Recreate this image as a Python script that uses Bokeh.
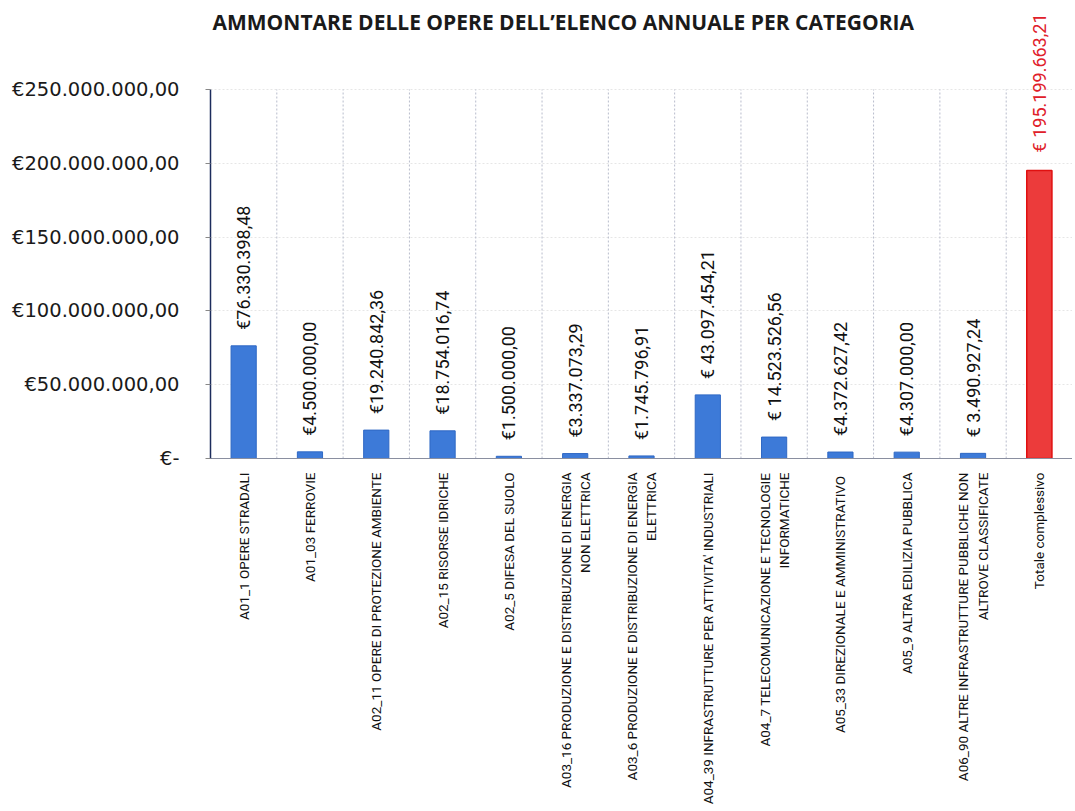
import math
from bokeh.plotting import figure
from bokeh.models import (ColumnDataSource, FactorRange, Range1d, FixedTicker,
                          LabelSet, Label)
from bokeh.core.properties import value
from bokeh.embed import file_html
from bokeh.resources import INLINE

categories = [
    "A01_1 OPERE STRADALI",
    "A01_03 FERROVIE",
    "A02_11 OPERE DI PROTEZIONE AMBIENTE",
    "A02_15 RISORSE IDRICHE",
    "A02_5 DIFESA DEL SUOLO",
    "A03_16 PRODUZIONE E DISTRIBUZIONE DI ENERGIA\nNON ELETTRICA",
    "A03_6 PRODUZIONE E DISTRIBUZIONE DI ENERGIA\nELETTRICA",
    "A04_39 INFRASTRUTTURE PER ATTIVITA' INDUSTRIALI",
    "A04_7 TELECOMUNICAZIONE E TECNOLOGIE\nINFORMATICHE",
    "A05_33 DIREZIONALE  E AMMINISTRATIVO",
    "A05_9 ALTRA EDILIZIA PUBBLICA",
    "A06_90 ALTRE INFRASTRUTTURE PUBBLICHE NON\nALTROVE CLASSIFICATE",
]
values = [76330398.48, 4500000.00, 19240842.36, 18754016.74, 1500000.00,
          3337073.29, 1745796.91, 43097454.21, 14523526.56, 4372627.42,
          4307000.00, 3490927.24]
value_labels = ["€76.330.398,48", "€4.500.000,00", "€19.240.842,36",
                "€18.754.016,74", "€1.500.000,00", "€3.337.073,29",
                "€1.745.796,91", "€ 43.097.454,21", "€ 14.523.526,56",
                "€4.372.627,42", "€4.307.000,00", "€ 3.490.927,24"]

total_category = "Totale complessivo"
total_value = 195199663.21
total_label = "€ 195.199.663,21"

y_ticks = [0, 50000000, 100000000, 150000000, 200000000, 250000000]
y_tick_labels = ["€-", "€50.000.000,00", "€100.000.000,00", "€150.000.000,00",
                 "€200.000.000,00", "€250.000.000,00"]

title_text = "AMMONTARE DELLE OPERE DELL\u2019ELENCO ANNUALE PER CATEGORIA"

all_cats = categories + [total_category]
axis_max = y_ticks[-1]

src = ColumnDataSource(dict(cat=categories, val=values, lab=value_labels))
src_tot = ColumnDataSource(dict(cat=[total_category], val=[total_value], lab=[total_label]))

LABEL_FONT = "Roboto"

# frame reaches the top of the canvas so the total's label is not clipped;
# the axis itself stops at 250 M (axis bounds)
p = figure(width=1072, height=808, output_backend="svg", toolbar_location=None,
           x_range=FactorRange(factors=all_cats, range_padding=0, factor_padding=0),
           y_range=Range1d(0, axis_max * 458 / 369),
           min_border_left=210, min_border_right=0, min_border_top=0,
           min_border_bottom=350)
p.outline_line_color = None
p.background_fill_color = "white"

# vertical dotted separators between categories, up to the top of the axis
bounds_x = list(range(1, len(all_cats)))
p.segment(x0=bounds_x, y0=[0] * len(bounds_x), x1=bounds_x, y1=[axis_max] * len(bounds_x),
          line_color="#b8bccc", line_dash="2 2", line_width=1)

p.vbar(x="cat", top="val", width=0.38, source=src, fill_color="#3d7ad8",
       line_color="#2f68c4", line_width=1)
p.vbar(x="cat", top="val", width=0.38, source=src_tot, fill_color="#ec3b3b",
       line_color="#e01010", line_width=1.5)

p.add_layout(LabelSet(x="cat", y="val", text="lab", source=src, angle=math.pi / 2,
                      text_align="left", text_baseline="middle", y_offset=16,
                      text_font=value(LABEL_FONT), text_font_size=value("18px"),
                      text_color="#111111"))
p.add_layout(LabelSet(x="cat", y="val", text="lab", source=src_tot, angle=math.pi / 2,
                      text_align="left", text_baseline="middle", y_offset=18,
                      text_font=value(LABEL_FONT), text_font_size=value("18px"),
                      text_color="#e0202a"))

# chart title (inside the tall frame, above the axis top)
p.add_layout(Label(x=2, y=437, x_units="screen", y_units="screen", text=title_text,
                   text_align="left", text_baseline="middle",
                   text_font="Open Sans", text_font_size="21px", text_font_style="bold",
                   text_color="#1a1a1a"))

# y axis
p.yaxis.bounds = (0, axis_max)
p.yaxis.ticker = FixedTicker(ticks=y_ticks)
p.yaxis.major_label_overrides = {t: l for t, l in zip(y_ticks, y_tick_labels)}
p.yaxis.major_label_text_font = "DejaVu Sans"
p.yaxis.major_label_text_font_size = "19.5px"
p.yaxis.major_label_text_color = "#1a1a1a"
p.yaxis.axis_line_color = "#1c2c5c"
p.yaxis.axis_line_width = 1.5
p.yaxis.major_tick_line_color = "#888888"
p.yaxis.major_tick_in = 0
p.yaxis.major_tick_out = 5
p.yaxis.minor_tick_line_color = None
p.yaxis.major_label_standoff = 26

# x axis
p.xaxis.major_label_orientation = math.pi / 2
p.xaxis.major_label_text_font = LABEL_FONT
p.xaxis.major_label_text_font_size = "13.5px"
p.xaxis.major_label_text_color = "#111111"
p.xaxis.major_label_text_align = "center"
p.xaxis.axis_line_color = "#8a8fa0"
p.xaxis.axis_line_width = 1.2
p.xaxis.major_tick_line_color = None
p.xaxis.major_label_standoff = 8

# grids
p.xgrid.grid_line_color = None
p.ygrid.ticker = FixedTicker(ticks=y_ticks[1:])
p.ygrid.grid_line_color = "#e6e6e6"
p.ygrid.grid_line_dash = "2 2"

open("out.html", "w").write(file_html(p, INLINE))
